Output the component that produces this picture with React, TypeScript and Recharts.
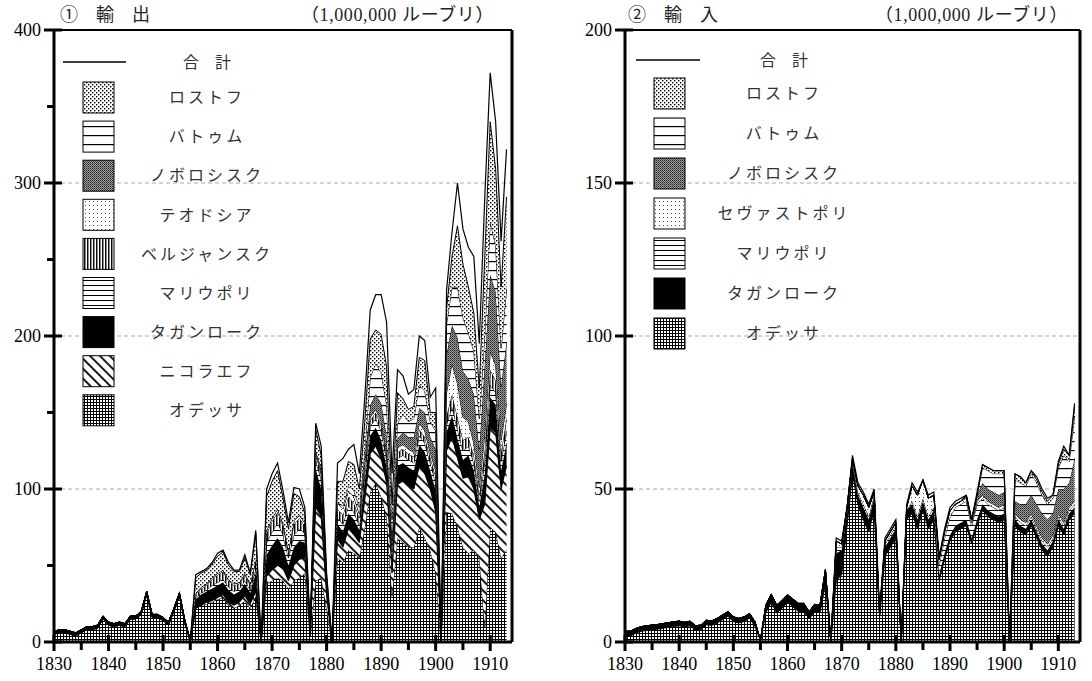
import React from 'react';
import { ComposedChart, Area, Line, XAxis, YAxis, CartesianGrid } from 'recharts';

// 1830 - 1913
const years = [
  1830, 1831, 1832, 1833, 1834, 1835, 1836, 1837, 1838, 1839,
  1840, 1841, 1842, 1843, 1844, 1845, 1846, 1847, 1848, 1849,
  1850, 1851, 1852, 1853, 1854, 1855, 1856, 1857, 1858, 1859,
  1860, 1861, 1862, 1863, 1864, 1865, 1866, 1867, 1868, 1869,
  1870, 1871, 1872, 1873, 1874, 1875, 1876, 1877, 1878, 1879,
  1880, 1881, 1882, 1883, 1884, 1885, 1886, 1887, 1888, 1889,
  1890, 1891, 1892, 1893, 1894, 1895, 1896, 1897, 1898, 1899,
  1900, 1901, 1902, 1903, 1904, 1905, 1906, 1907, 1908, 1909,
  1910, 1911, 1912, 1913,
];

const xTicks = [1830, 1835, 1840, 1845, 1850, 1855, 1860, 1865, 1870, 1875, 1880, 1885, 1890, 1895, 1900, 1905, 1910];
const X_DOMAIN: [number, number] = [1830, 1914];

// ---- 輸出 (exports) ----
const exTotal = [
  7, 8, 8, 7, 6, 8, 10, 10, 11, 17,
  13, 12, 13, 12, 17, 17, 20, 33, 18, 18,
  16, 13, 22, 32, 14, 1, 44, 46, 48, 52,
  58, 60, 52, 47, 47, 57, 45, 73, 0, 100,
  110, 117, 99, 78, 101, 100, 88, 8, 143, 128,
  45, 0, 117, 120, 126, 129, 110, 160, 217, 227,
  227, 209, 110, 178, 174, 162, 165, 200, 197, 160,
  166, 0, 230, 268, 300, 270, 258, 252, 195, 290,
  372, 340, 262, 322,
];
const exOdessa = [
  5, 6, 6, 5, 4, 6, 8, 8, 9, 15,
  11, 10, 11, 10, 15, 15, 18, 31, 16, 16,
  14, 11, 20, 30, 12, 0, 22, 24, 25, 26,
  28, 29, 24, 22, 24, 27, 22, 30, 0, 38,
  40, 42, 40, 35, 40, 42, 45, 4, 40, 42,
  22, 0, 55, 52, 60, 58, 55, 75, 98, 104,
  95, 82, 30, 68, 65, 62, 62, 75, 68, 60,
  45, 0, 85, 84, 75, 62, 58, 60, 55, 10,
  75, 72, 55, 60,
];
const exNikolaev = [
  0, 0, 0, 0, 0, 0, 0, 0, 0, 0,
  0, 0, 0, 0, 0, 0, 0, 0, 0, 0,
  0, 0, 0, 0, 0, 0, 0, 0, 1, 1,
  1, 2, 2, 2, 2, 3, 3, 3, 0, 5,
  7, 8, 8, 5, 10, 12, 10, 1, 48, 40,
  8, 0, 12, 10, 14, 12, 10, 18, 25, 24,
  25, 22, 15, 35, 40, 40, 38, 40, 42, 40,
  40, 0, 40, 50, 45, 45, 50, 40, 25, 80,
  65, 65, 45, 55,
];
const exTaganrog = [
  2, 2, 2, 2, 2, 2, 2, 2, 2, 2,
  2, 2, 2, 2, 2, 2, 2, 2, 2, 2,
  2, 2, 2, 2, 2, 1, 6, 7, 7, 8,
  8, 8, 8, 7, 7, 8, 7, 12, 0, 14,
  16, 18, 14, 10, 12, 12, 10, 1, 25, 18,
  5, 0, 10, 10, 10, 10, 8, 12, 12, 12,
  12, 10, 10, 12, 12, 12, 12, 14, 14, 12,
  14, 0, 12, 14, 13, 12, 14, 12, 8, 20,
  20, 18, 12, 15,
];
const exMariupol = [
  0, 0, 0, 0, 0, 0, 0, 0, 0, 0,
  0, 0, 0, 0, 0, 0, 0, 0, 0, 0,
  0, 0, 0, 0, 0, 0, 1, 1, 1, 2,
  2, 2, 2, 2, 2, 2, 2, 3, 0, 8,
  9, 10, 8, 5, 8, 8, 6, 0, 6, 6,
  2, 0, 4, 5, 5, 5, 3, 5, 6, 6,
  6, 5, 4, 5, 5, 5, 5, 6, 6, 5,
  5, 0, 5, 6, 6, 6, 6, 5, 4, 8,
  8, 8, 6, 8,
];
const exBerdyansk = [
  0, 0, 0, 0, 0, 0, 0, 0, 0, 0,
  0, 0, 0, 0, 0, 0, 0, 0, 0, 0,
  0, 0, 0, 0, 0, 0, 2, 3, 3, 4,
  5, 5, 4, 4, 3, 4, 3, 5, 0, 6,
  7, 7, 6, 4, 7, 7, 5, 0, 4, 4,
  1, 0, 6, 6, 6, 6, 5, 6, 4, 4,
  4, 4, 4, 4, 4, 4, 4, 4, 4, 4,
  4, 0, 6, 8, 8, 7, 6, 5, 4, 8,
  10, 8, 6, 8,
];
const exFeodosia = [
  0, 0, 0, 0, 0, 0, 0, 0, 0, 0,
  0, 0, 0, 0, 0, 0, 0, 0, 0, 0,
  0, 0, 0, 0, 0, 0, 1, 1, 1, 1,
  1, 1, 1, 1, 1, 1, 1, 1, 0, 2,
  2, 2, 2, 1, 2, 2, 2, 0, 2, 2,
  1, 0, 4, 4, 4, 4, 3, 4, 2, 2,
  2, 2, 3, 3, 3, 3, 3, 4, 4, 3,
  4, 0, 15, 20, 22, 15, 10, 8, 5, 10,
  12, 10, 8, 10,
];
const exNovorossiysk = [
  0, 0, 0, 0, 0, 0, 0, 0, 0, 0,
  0, 0, 0, 0, 0, 0, 0, 0, 0, 0,
  0, 0, 0, 0, 0, 0, 0, 0, 0, 0,
  0, 0, 0, 0, 0, 0, 0, 0, 0, 0,
  0, 0, 0, 0, 0, 0, 0, 0, 0, 0,
  0, 0, 0, 0, 0, 0, 0, 0, 8, 10,
  12, 10, 4, 6, 8, 8, 10, 10, 12, 10,
  14, 0, 25, 25, 30, 30, 28, 32, 25, 45,
  50, 48, 35, 40,
];
const exBatum = [
  0, 0, 0, 0, 0, 0, 0, 0, 0, 0,
  0, 0, 0, 0, 0, 0, 0, 0, 0, 0,
  0, 0, 0, 0, 0, 0, 0, 0, 0, 0,
  0, 0, 0, 0, 0, 0, 0, 0, 0, 0,
  0, 0, 0, 0, 0, 0, 0, 0, 0, 2,
  1, 0, 0, 2, 3, 4, 4, 6, 18, 20,
  20, 20, 10, 10, 12, 10, 12, 15, 14, 10,
  12, 0, 20, 25, 33, 35, 30, 28, 20, 20,
  35, 30, 25, 35,
];
const exRostov = [
  0, 0, 0, 0, 0, 0, 0, 0, 0, 0,
  0, 0, 0, 0, 0, 0, 0, 0, 0, 0,
  0, 0, 0, 0, 0, 0, 10, 9, 9, 9,
  11, 12, 9, 8, 7, 10, 6, 17, 0, 22,
  24, 25, 16, 14, 18, 12, 6, 0, 14, 8,
  3, 0, 14, 16, 16, 17, 12, 18, 25, 22,
  25, 25, 10, 20, 10, 8, 8, 18, 20, 6,
  12, 0, 10, 20, 40, 35, 30, 25, 20, 50,
  65, 50, 40, 60,
];

// ---- 輸入 (imports) ----
const imTotal = [
  3.5, 3.5, 4.4, 5, 5.3, 5.5, 5.7, 6, 6.3, 6.6,
  6.8, 6.4, 6.8, 5.3, 5.5, 7.1, 6.9, 7.7, 8.8, 9.9,
  8.2, 7.7, 8.2, 9.3, 6.6, 0.5, 12, 15.6, 12, 13.7,
  15.4, 14, 12.6, 12.6, 9.9, 12.3, 12, 23.6, 0, 34,
  33, 44, 61, 52, 49, 45, 50, 10, 34, 37,
  40, 0, 45, 52, 49, 53, 48, 49, 28, 37,
  44, 46, 47, 48, 40, 49, 58, 57, 56, 56,
  56, 0, 55, 54, 52, 56, 54, 50, 47, 48,
  59, 64, 61, 78,
];
const imOdessa = [
  2, 2, 2.9, 3.5, 3.8, 4, 4.2, 4.5, 4.8, 5.1,
  5.3, 4.9, 5.3, 3.8, 4, 5.6, 5.4, 6.2, 7.3, 8.4,
  6.7, 6.2, 6.7, 7.8, 5.1, 0.5, 9.5, 13, 9.5, 11,
  13, 11.5, 10, 10, 7.5, 10, 9.5, 19, 0, 20,
  22, 38, 55, 45, 40, 36, 43, 8, 28, 31,
  34, 0, 40, 42, 37, 43, 37, 40, 20, 27,
  33, 36, 37, 38, 32, 38, 43, 41, 40, 39,
  40, 0, 38, 36, 35, 38, 34, 30, 28, 31,
  38, 35, 40, 42,
];
const imTaganrog = [
  1.5, 1.5, 1.5, 1.5, 1.5, 1.5, 1.5, 1.5, 1.5, 1.5,
  1.5, 1.5, 1.5, 1.5, 1.5, 1.5, 1.5, 1.5, 1.5, 1.5,
  1.5, 1.5, 1.5, 1.5, 1.5, 0, 2.5, 2.6, 2.5, 2.7,
  2.4, 2.5, 2.6, 2.6, 2.4, 2.3, 2.5, 4.6, 0, 9,
  8, 4, 3, 3, 4, 4, 4, 1, 3, 3,
  3, 0, 3, 3, 3, 3, 3, 3, 2, 2,
  2, 2, 2, 2, 2, 2, 2, 2, 2, 2,
  2, 0, 2, 2, 2, 2, 2, 2, 2, 2,
  2, 2, 2, 2,
];
const imMariupol = [
  0, 0, 0, 0, 0, 0, 0, 0, 0, 0,
  0, 0, 0, 0, 0, 0, 0, 0, 0, 0,
  0, 0, 0, 0, 0, 0, 0, 0, 0, 0,
  0, 0, 0, 0, 0, 0, 0, 0, 0, 2,
  1, 1, 1, 1, 1, 1, 1, 0, 1, 1,
  1, 0, 0, 1, 1, 1, 1, 1, 3, 5,
  6, 6, 6, 6, 4, 5, 2, 2, 2, 2,
  2, 0, 1, 1, 1, 1, 1, 1, 1, 1,
  1, 1, 1, 1,
];
const imSevastopol = [
  0, 0, 0, 0, 0, 0, 0, 0, 0, 0,
  0, 0, 0, 0, 0, 0, 0, 0, 0, 0,
  0, 0, 0, 0, 0, 0, 0, 0, 0, 0,
  0, 0, 0, 0, 0, 0, 0, 0, 0, 2,
  1, 1, 1, 2, 3, 3, 1, 0, 1, 1,
  1, 0, 1, 5, 7, 6, 6, 4, 2, 2,
  2, 1, 1, 1, 1, 1, 1, 1, 1, 1,
  1, 0, 1, 1, 1, 1, 1, 1, 1, 1,
  1, 1, 1, 1,
];
const imNovorossiysk = [
  0, 0, 0, 0, 0, 0, 0, 0, 0, 0,
  0, 0, 0, 0, 0, 0, 0, 0, 0, 0,
  0, 0, 0, 0, 0, 0, 0, 0, 0, 0,
  0, 0, 0, 0, 0, 0, 0, 0, 0, 0,
  0, 0, 0, 0, 0, 0, 0, 0, 0, 0,
  0, 0, 0, 0, 0, 0, 0, 0, 0, 0,
  0, 0, 0, 1, 1, 2, 4, 4, 4, 4,
  4, 0, 4, 5, 6, 6, 7, 8, 8, 7,
  8, 11, 8, 14,
];
const imBatum = [
  0, 0, 0, 0, 0, 0, 0, 0, 0, 0,
  0, 0, 0, 0, 0, 0, 0, 0, 0, 0,
  0, 0, 0, 0, 0, 0, 0, 0, 0, 0,
  0, 0, 0, 0, 0, 0, 0, 0, 0, 0,
  0, 0, 0, 0, 0, 0, 0, 0, 0, 0,
  0, 0, 0, 0, 0, 0, 0, 0, 0, 0,
  0, 0, 0, 0, 0, 0, 5, 6, 6, 7,
  6, 0, 7, 7, 6, 7, 7, 6, 5, 5,
  7, 11, 7, 14,
];
const imRostov = [
  0, 0, 0, 0, 0, 0, 0, 0, 0, 0,
  0, 0, 0, 0, 0, 0, 0, 0, 0, 0,
  0, 0, 0, 0, 0, 0, 0, 0, 0, 0,
  0, 0, 0, 0, 0, 0, 0, 0, 0, 0,
  0, 0, 0, 0, 0, 0, 0, 0, 0, 0,
  0, 0, 0, 0, 0, 0, 0, 0, 0, 0,
  0, 0, 0, 0, 0, 0, 1, 1, 1, 1,
  1, 0, 2, 2, 1, 1, 1, 1, 1, 1,
  1, 2, 2, 3,
];

const exportSeries = [
  { key: 'odessa', name: 'オデッサ', values: exOdessa, fill: 'url(#pOdessa)' },
  { key: 'nikolaev', name: 'ニコラエフ', values: exNikolaev, fill: 'url(#pNikolaev)' },
  { key: 'taganrog', name: 'タガンローク', values: exTaganrog, fill: '#000' },
  { key: 'mariupol', name: 'マリウポリ', values: exMariupol, fill: 'url(#pMariupol)' },
  { key: 'berdyansk', name: 'ベルジャンスク', values: exBerdyansk, fill: 'url(#pBerdyansk)' },
  { key: 'feodosia', name: 'テオドシア', values: exFeodosia, fill: 'url(#pSparseDots)' },
  { key: 'novorossiysk', name: 'ノボロシスク', values: exNovorossiysk, fill: 'url(#pNovo)' },
  { key: 'batum', name: 'バトゥム', values: exBatum, fill: 'url(#pBatum)' },
  { key: 'rostov', name: 'ロストフ', values: exRostov, fill: 'url(#pRostov)' },
];

const importSeries = [
  { key: 'odessa', name: 'オデッサ', values: imOdessa, fill: 'url(#pOdessa)' },
  { key: 'taganrog', name: 'タガンローク', values: imTaganrog, fill: '#000' },
  { key: 'mariupol', name: 'マリウポリ', values: imMariupol, fill: 'url(#pMariupol)' },
  { key: 'sevastopol', name: 'セヴァストポリ', values: imSevastopol, fill: 'url(#pSparseDots)' },
  { key: 'novorossiysk', name: 'ノボロシスク', values: imNovorossiysk, fill: 'url(#pNovo)' },
  { key: 'batum', name: 'バトゥム', values: imBatum, fill: 'url(#pBatum)' },
  { key: 'rostov', name: 'ロストフ', values: imRostov, fill: 'url(#pRostov)' },
];

const buildRows = (series: any[], total: number[]) =>
  years.map((year, i) => {
    const row: any = { year, total: total[i] };
    series.forEach((s) => { row[s.key] = s.values[i]; });
    return row;
  });

const exportRows = buildRows(exportSeries, exTotal);
const importRows = buildRows(importSeries, imTotal);

const W = 546;
const H = 681;
const Y_AXIS_W = 50;
const X_AXIS_H = 30;
const SERIF = "'Liberation Serif', 'Noto Sans CJK JP', serif";
const JP = "'Noto Sans CJK JP', sans-serif";

type Margin = { top: number; right: number; bottom: number; left: number };
// the frame axes (top / right) take 1px each, hence 29 / 33 / 11
const exportMargin: Margin = { top: 29, right: 33, bottom: 9, left: 4 };
const importMargin: Margin = { top: 29, right: 11, bottom: 9, left: 29 };
const exportYTicks = [0, 50, 100, 150, 200, 250, 300, 350, 400];
const importYTicks = [0, 50, 100, 150, 200];

const Patterns = () => (
  <svg width={0} height={0} style={{ position: 'absolute' }}>
    <defs>
      <pattern id="pOdessa" width={3} height={3} patternUnits="userSpaceOnUse">
        <rect width={3} height={3} fill="#fff" />
        <path d="M0 0.5H3M0.5 0V3" stroke="#000" strokeWidth={1} />
      </pattern>
      <pattern id="pNikolaev" width={7} height={7} patternUnits="userSpaceOnUse" patternTransform="rotate(-45)">
        <rect width={7} height={7} fill="#fff" />
        <line x1={1} y1={0} x2={1} y2={7} stroke="#000" strokeWidth={1.8} />
      </pattern>
      <pattern id="pMariupol" width={6} height={5} patternUnits="userSpaceOnUse">
        <rect width={6} height={5} fill="#fff" />
        <line x1={0} y1={0.5} x2={6} y2={0.5} stroke="#000" strokeWidth={1} />
      </pattern>
      <pattern id="pBerdyansk" width={3} height={6} patternUnits="userSpaceOnUse">
        <rect width={3} height={6} fill="#fff" />
        <line x1={0.75} y1={0} x2={0.75} y2={6} stroke="#000" strokeWidth={1.4} />
      </pattern>
      <pattern id="pSparseDots" width={4} height={4} patternUnits="userSpaceOnUse">
        <rect width={4} height={4} fill="#fff" />
        <rect x={1} y={1} width={1} height={1} fill="#555" />
      </pattern>
      <pattern id="pNovo" width={2} height={2} patternUnits="userSpaceOnUse">
        <rect width={2} height={2} fill="#9a9a9a" />
        <rect x={0} y={0} width={1} height={1} fill="#222" />
        <rect x={1} y={1} width={1} height={1} fill="#555" />
      </pattern>
      <pattern id="pBatum" width={8} height={9} patternUnits="userSpaceOnUse">
        <rect width={8} height={9} fill="#fff" />
        <line x1={0} y1={0.6} x2={8} y2={0.6} stroke="#000" strokeWidth={1.2} />
      </pattern>
      <pattern id="pRostov" width={4} height={4} patternUnits="userSpaceOnUse">
        <rect width={4} height={4} fill="#fff" />
        <rect x={0} y={0} width={1.4} height={1.4} fill="#000" />
        <rect x={2} y={2} width={1.4} height={1.4} fill="#000" />
      </pattern>
    </defs>
  </svg>
);

// x tick: label every 10 years, long mark on decades, short mark on half-decades
const XTick = (props: any) => {
  const { x, y, payload } = props;
  const major = payload.value % 10 === 0;
  return (
    <g>
      <rect x={x - 1.5} y={major ? y - 7 : y + 1} width={3} height={major ? 16 : 7} fill="#000" />
      {major && (
        <text x={x} y={y + 28} textAnchor="middle" fontFamily={SERIF} fontSize={18} fill="#000">
          {payload.value}
        </text>
      )}
    </g>
  );
};

const makeYTick = (labelStep: number) => (props: any) => {
  const { x, y, payload } = props;
  const major = payload.value % labelStep === 0;
  return (
    <g>
      <rect x={major ? x - 10 : x - 7} y={y - 1.5} width={major ? 18 : 7} height={3} fill="#000" />
      {major && (
        <text x={x - 13} y={y} dy="0.36em" textAnchor="end" fontFamily={SERIF} fontSize={18} fill="#000">
          {payload.value}
        </text>
      )}
    </g>
  );
};

type ChartProps = {
  rows: any[];
  series: any[];
  yMax: number;
  yTicks: number[];
  gridValues: number[];
  labelStep: number;
  margin: Margin;
};

const PortChart = ({ rows, series, yMax, yTicks, gridValues, labelStep, margin }: ChartProps) => (
  <ComposedChart width={W} height={H} data={rows} margin={margin}>
    <CartesianGrid vertical={false} horizontalValues={gridValues} stroke="#aaa" strokeDasharray="4 3" />
    <XAxis
      dataKey="year"
      type="number"
      domain={X_DOMAIN}
      ticks={xTicks}
      interval={0}
      tickSize={0}
      tickMargin={0}
      tickLine={false}
      tick={<XTick />}
      axisLine={{ stroke: '#000', strokeWidth: 3 }}
      height={X_AXIS_H}
    />
    <XAxis
      xAxisId="frameTop"
      orientation="top"
      dataKey="year"
      type="number"
      domain={X_DOMAIN}
      tick={false}
      tickLine={false}
      axisLine={{ stroke: '#000', strokeWidth: 2 }}
      height={1}
    />
    <YAxis
      type="number"
      domain={[0, yMax]}
      ticks={yTicks}
      interval={0}
      tickSize={0}
      tickMargin={0}
      tickLine={false}
      tick={makeYTick(labelStep)}
      axisLine={{ stroke: '#000', strokeWidth: 3 }}
      width={Y_AXIS_W}
    />
    <YAxis
      yAxisId="frameRight"
      orientation="right"
      type="number"
      domain={[0, yMax]}
      tick={false}
      tickLine={false}
      axisLine={{ stroke: '#000', strokeWidth: 3 }}
      width={1}
    />
    {series.map((s) => (
      <Area
        key={s.key}
        type="linear"
        dataKey={s.key}
        stackId="ports"
        stroke="#000"
        strokeWidth={1}
        fill={s.fill}
        fillOpacity={1}
        dot={false}
        activeDot={false}
        isAnimationActive={false}
      />
    ))}
    <Line
      type="linear"
      dataKey="total"
      stroke="#000"
      strokeWidth={1.2}
      dot={false}
      activeDot={false}
      isAnimationActive={false}
    />
  </ComposedChart>
);

type LegendProps = {
  series: any[];
  lineX: [number, number];
  lineY: number;
  textX: number;
  swatchX: number;
  firstTop: number;
  step: number;
};

const PortLegend = ({ series, lineX, lineY, textX, swatchX, firstTop, step }: LegendProps) => {
  const ordered = [...series].reverse();
  return (
    <svg width={W} height={H} style={{ position: 'absolute', left: 0, top: 0, pointerEvents: 'none' }}>
      <line x1={lineX[0]} x2={lineX[1]} y1={lineY} y2={lineY} stroke="#000" strokeWidth={1.5} />
      <text x={textX} y={lineY} dy="0.36em" textAnchor="middle" fontFamily={JP} fontSize={16} fill="#333">
        合　計
      </text>
      {ordered.map((s, i) => {
        const top = firstTop + i * step;
        return (
          <g key={s.key}>
            <rect x={swatchX} y={top} width={31} height={31} fill={s.fill} stroke="#000" strokeWidth={1} />
            <text
              x={textX}
              y={top + 15.5}
              dy="0.36em"
              textAnchor="middle"
              fontFamily={JP}
              fontSize={16}
              letterSpacing={3}
              fill="#333"
            >
              {s.name}
            </text>
          </g>
        );
      })}
    </svg>
  );
};

const Title = ({ left, label, unitRight }: { left: number; label: string; unitRight: number }) => (
  <svg width={W} height={30} style={{ position: 'absolute', left: 0, top: 0, pointerEvents: 'none' }}>
    <text x={left} y={21} fontFamily={SERIF} fontSize={18} fill="#222">
      {label}
    </text>
    <text x={unitRight} y={21} textAnchor="end" fontFamily={SERIF} fontSize={18} letterSpacing={0.6} fill="#222">
      （1,000,000 ルーブリ）
    </text>
  </svg>
);

export default function App() {
  return (
    <div style={{ position: 'absolute', left: 0, top: 0, width: 1092, height: 681, background: '#fff' }}>
      <Patterns />
      <div style={{ position: 'absolute', left: 0, top: 0, width: W, height: H }}>
        <PortChart
          rows={exportRows}
          series={exportSeries}
          yMax={400}
          yTicks={exportYTicks}
          gridValues={[100, 200, 300]}
          labelStep={100}
          margin={exportMargin}
        />
        <PortLegend
          series={exportSeries}
          lineX={[63, 126]}
          lineY={62}
          textX={207}
          swatchX={83}
          firstTop={82}
          step={39.1}
        />
        <Title left={60} label="①　輸　出" unitRight={494} />
      </div>
      <div style={{ position: 'absolute', left: W, top: 0, width: W, height: H }}>
        <PortChart
          rows={importRows}
          series={importSeries}
          yMax={200}
          yTicks={importYTicks}
          gridValues={[50, 100, 150]}
          labelStep={50}
          margin={importMargin}
        />
        <PortLegend
          series={importSeries}
          lineX={[90, 154]}
          lineY={60}
          textX={238}
          swatchX={108}
          firstTop={78}
          step={40}
        />
        <Title left={82} label="②　輸　入" unitRight={522} />
      </div>
    </div>
  );
}
